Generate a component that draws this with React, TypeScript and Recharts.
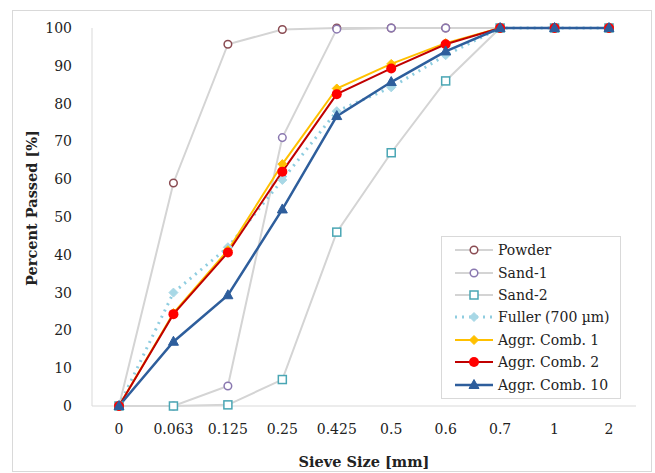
import React from "react";
import { LineChart, Line, XAxis, YAxis } from "recharts";

const sieveSizes = ["0", "0.063", "0.125", "0.25", "0.425", "0.5", "0.6", "0.7", "1", "2"];
const powder = [0, 59, 95.7, 99.6, 100, 100, 100, 100, 100, 100];
const sand1 = [0, 0, 5.3, 71, 99.7, 100, 100, 100, 100, 100];
const sand2 = [0, 0, 0.3, 7, 46, 67, 86, 100, 100, 100];
const fuller = [0, 30, 42, 59.8, 78, 84.3, 92.8, 100, 100, 100];
const aggr1 = [0, 24.6, 41.2, 64, 84, 90.5, 96, 100, 100, 100];
const aggr2 = [0, 24.3, 40.6, 62, 82.5, 89.3, 95.7, 100, 100, 100];
const aggr10 = [0, 17, 29.3, 52, 76.7, 85.7, 93.8, 100, 100, 100];
const yTicks = [0, 10, 20, 30, 40, 50, 60, 70, 80, 90, 100];

const data = sieveSizes.map((s, i) => ({
  size: s,
  powder: powder[i],
  sand1: sand1[i],
  sand2: sand2[i],
  fuller: fuller[i],
  aggr1: aggr1[i],
  aggr2: aggr2[i],
  aggr10: aggr10[i],
}));

const FONT = "'DejaVu Serif', serif";

type MarkerKind = "circle" | "square" | "diamond" | "dot" | "triangle";

function Marker({ kind, cx, cy, stroke, fill }: { kind: MarkerKind; cx: number; cy: number; stroke: string; fill: string }) {
  if (kind === "circle") return <circle cx={cx} cy={cy} r={3.8} stroke={stroke} strokeWidth={1.5} fill="#fff" />;
  if (kind === "square") return <rect x={cx - 4} y={cy - 4} width={8} height={8} stroke={stroke} strokeWidth={1.5} fill="#fff" />;
  if (kind === "diamond")
    return <path d={`M${cx},${cy - 4.5}L${cx + 4.5},${cy}L${cx},${cy + 4.5}L${cx - 4.5},${cy}Z`} fill={fill} stroke={stroke} strokeWidth={1} />;
  if (kind === "dot") return <circle cx={cx} cy={cy} r={5} fill={fill} stroke="none" />;
  return <path d={`M${cx},${cy - 5.5}L${cx + 5},${cy + 3.5}L${cx - 5},${cy + 3.5}Z`} fill={fill} stroke={fill} strokeWidth={1} />;
}

const series: {
  key: string;
  name: string;
  line: string;
  width: number;
  dash?: string;
  kind: MarkerKind;
  mStroke: string;
  mFill: string;
}[] = [
  { key: "powder", name: "Powder", line: "#d4d4d4", width: 2, kind: "circle", mStroke: "#8a4b52", mFill: "#fff" },
  { key: "sand1", name: "Sand-1", line: "#d4d4d4", width: 2, kind: "circle", mStroke: "#8a78b0", mFill: "#fff" },
  { key: "sand2", name: "Sand-2", line: "#d4d4d4", width: 2, kind: "square", mStroke: "#4aa6b4", mFill: "#fff" },
  { key: "fuller", name: "Fuller (700 µm)", line: "#8fcde0", width: 3, dash: "2 5", kind: "diamond", mStroke: "#a8d8e6", mFill: "#a8d8e6" },
  { key: "aggr1", name: "Aggr. Comb. 1", line: "#ffc000", width: 2, kind: "diamond", mStroke: "#ffc000", mFill: "#ffc000" },
  { key: "aggr2", name: "Aggr. Comb. 2", line: "#c00000", width: 2, kind: "dot", mStroke: "#ff0000", mFill: "#ff0000" },
  { key: "aggr10", name: "Aggr. Comb. 10", line: "#2e5e9c", width: 2.5, kind: "triangle", mStroke: "#2e5e9c", mFill: "#2e5e9c" },
];

function LegendBox() {
  return (
    <div
      style={{
        position: "absolute",
        left: 441,
        top: 236,
        width: 180,
        border: "1px solid #d9d9d9",
        background: "#fff",
        padding: "2px 6px 2px 12px",
        fontFamily: FONT,
        fontSize: 14,
        color: "#222",
        boxSizing: "border-box",
      }}
    >
      {series.map((s) => (
        <div key={s.key} style={{ display: "flex", alignItems: "center", height: 22.4, whiteSpace: "nowrap" }}>
          <svg width={40} height={14} style={{ marginRight: 4, flex: "none" }}>
            <line x1={1} y1={7} x2={39} y2={7} stroke={s.line} strokeWidth={s.width} strokeDasharray={s.dash} />
            <Marker kind={s.kind} cx={20} cy={7} stroke={s.mStroke} fill={s.mFill} />
          </svg>
          <span>{s.name}</span>
        </div>
      ))}
    </div>
  );
}

function YTitle(props: any) {
  const vb = props.viewBox || {};
  const cx = 31;
  const cy = (vb.y ?? 28) + (vb.height ?? 378) / 2 - 9;
  return (
    <text
      x={cx}
      y={cy}
      transform={`rotate(-90, ${cx}, ${cy})`}
      textAnchor="middle"
      dominantBaseline="central"
      fontFamily={FONT}
      fontSize={14.5}
      fontWeight="bold"
      fill="#222"
    >
      Percent Passed [%]
    </text>
  );
}

export default function App() {
  return (
    <div style={{ position: "absolute", left: 0, top: 0, width: 655, height: 473, background: "#fff" }}>
      <div
        style={{
          position: "absolute",
          left: 12,
          top: 10,
          width: 640,
          height: 462,
          border: "1px solid #d9d9d9",
          boxSizing: "border-box",
        }}
      />
      <div style={{ position: "absolute", left: 0, top: 0 }}>
        <LineChart width={655} height={473} data={data} margin={{ top: 28, right: 19, bottom: 0, left: 0 }}>
          <XAxis
            dataKey="size"
            interval={0}
            padding={{ left: 27, right: 27 }}
            tickLine={false}
            axisLine={{ stroke: "#d9d9d9" }}
            tick={{ fontFamily: FONT, fontSize: 14, fill: "#222" }}
            tickMargin={12}
            height={67}
            label={{
              value: "Sieve Size [mm]",
              position: "insideBottom",
              offset: 6,
              style: { fontFamily: FONT, fontSize: 14.5, fontWeight: "bold", fill: "#222" },
            }}
          />
          <XAxis xAxisId="top" dataKey="size" orientation="top" height={0} tick={false} tickLine={false} axisLine={{ stroke: "#d9d9d9" }} />
          <YAxis
            domain={[0, 100]}
            ticks={yTicks}
            interval={0}
            width={92}
            tickLine={false}
            axisLine={{ stroke: "#d9d9d9" }}
            tick={{ fontFamily: FONT, fontSize: 14, fill: "#222" }}
            tickMargin={14}
            label={<YTitle />}
          />
          <YAxis yAxisId="right" orientation="right" width={0} domain={[0, 100]} tick={false} tickLine={false} axisLine={{ stroke: "#d9d9d9" }} />
          {series.map((s) => (
            <Line
              key={s.key}
              dataKey={s.key}
              name={s.name}
              stroke={s.line}
              strokeWidth={s.width}
              strokeDasharray={s.dash}
              isAnimationActive={false}
              dot={(p: any) => <Marker key={`${s.key}-${p.index}`} kind={s.kind} cx={p.cx} cy={p.cy} stroke={s.mStroke} fill={s.mFill} />}
              activeDot={false}
            />
          ))}
        </LineChart>
      </div>
      <LegendBox />
    </div>
  );
}
